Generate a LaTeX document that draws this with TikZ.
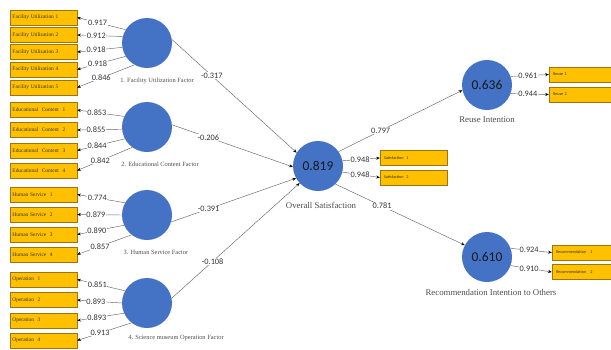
\documentclass[tikz,border=0pt]{standalone}
\usepackage{fontspec}
\setmainfont{Liberation Serif}
\newfontfamily\numfont{Carlito}
\usetikzlibrary{arrows.meta}
\definecolor{cblue}{HTML}{4472C4}
\definecolor{byellow}{HTML}{FFC000}
\definecolor{bedge}{HTML}{9C7410}
\begin{document}
\begin{tikzpicture}[x=1pt,y=-1pt,
  lv/.style={circle, fill=cblue, minimum size=50pt, inner sep=0pt, text=black!90,
    font=\numfont\fontsize{13.5}{13.5}\selectfont},
  indl/.style={draw=bedge, fill=byellow, minimum width=67pt, minimum height=15pt,
    inner xsep=2.5pt, inner ysep=0pt, text width=62pt, align=left, text=black!80,
    font=\fontsize{5.4}{6}\selectfont},
  indr/.style={draw=bedge, fill=byellow, minimum width=67pt, minimum height=15pt,
    inner xsep=4pt, inner ysep=0pt, text width=59pt, align=left, text=black!80,
    font=\numfont\fontsize{4.2}{5}\selectfont},
  ar/.style={draw=black!60, line width=0.45pt, -{Stealth[length=3.6pt,width=3pt,color=black]}},
  ld/.style={fill=white, inner sep=0.6pt, text=black!80, font=\numfont\fontsize{8.3}{9}\selectfont},
  pl/.style={fill=white, inner sep=0.6pt, text=black!80, font=\numfont\fontsize{8.3}{9}\selectfont},
  flbl/.style={text=black!70, inner sep=0pt, font=\fontsize{6.4}{7}\selectfont},
  clbl/.style={text=black!70, inner sep=0pt, font=\fontsize{8.8}{9}\selectfont}
]
\useasboundingbox (0,0) rectangle (611,349);
\clip (0,0) rectangle (611,349);

% latent variables
\node[lv] (F) at (147,43) {};
\node[lv] (E) at (147,127) {};
\node[lv] (H) at (147,215) {};
\node[lv] (O) at (147,303) {};
\node[lv] (S) at (318,166) {0.819};
\node[lv] (R) at (487,85) {0.636};
\node[lv] (C) at (487,257) {0.610};

% latent labels
\node[flbl] (Fl) at (157,81) {1. Facility Utilization Factor};
\node[flbl] (El) at (160,164) {2. Educational Content Factor};
\node[flbl] (Hl) at (156,252) {3. Human Service Factor};
\node[flbl] (Ol) at (176,338) {4. Science museum Operation Factor};
\node[clbl] (Sl) at (321,205) {Overall Satisfaction};
\node[clbl] (Rl) at (487,120) {Reuse Intention};
\node[clbl] (Cl) at (491,292) {Recommendation Intention to Others};

% left indicators
\node[indl] (f1) at (43.5,17.5) {Facility Utilization 1};
\node[indl] (f2) at (43.5,35) {Facility Utilization 2};
\node[indl] (f3) at (43.5,52) {Facility Utilization 3};
\node[indl] (f4) at (43.5,69.5) {Facility Utilization 4};
\node[indl] (f5) at (43.5,87.5) {Facility Utilization 5};
\node[indl] (e1) at (43.5,110) {Educational\ \ Content\ \ 1};
\node[indl] (e2) at (43.5,130) {Educational\ \ Content\ \ 2};
\node[indl] (e3) at (43.5,150.5) {Educational\ \ Content\ \ 3};
\node[indl] (e4) at (43.5,170.5) {Educational\ \ Content\ \ 4};
\node[indl] (h1) at (43.5,194.5) {Human Service\ \ 1};
\node[indl] (h2) at (43.5,214.5) {Human Service\ \ 2};
\node[indl] (h3) at (43.5,234.5) {Human Service\ \ 3};
\node[indl] (h4) at (43.5,254.5) {Human Service\ \ 4};
\node[indl] (o1) at (43.5,279.5) {Operation\ \ 1};
\node[indl] (o2) at (43.5,300) {Operation\ \ 2};
\node[indl] (o3) at (43.5,320.5) {Operation\ \ 3};
\node[indl] (o4) at (43.5,340.5) {Operation\ \ 4};

% right indicators
\node[indr] (s1) at (413.5,158) {Satisfaction\ \ 1};
\node[indr] (s2) at (413.5,177.5) {Satisfaction\ \ 2};
\node[indr] (r1) at (582.5,74.5) {Reuse 1};
\node[indr] (r2) at (582.5,94.5) {Reuse 2};
\node[indr] (c1) at (585.5,252.5) {Recommendation\ \ \ 1};
\node[indr] (c2) at (585.5,272) {Recommendation\ \ \ 2};

% loadings
\draw[ar] (F.148) -- node[ld,pos=0.58]{0.917} (f1.east);
\draw[ar] (F.165) -- node[ld,pos=0.58]{0.912} (f2.east);
\draw[ar] (F.190) -- node[ld,pos=0.58]{0.918} (f3.east);
\draw[ar] (F.212) -- node[ld,pos=0.58]{0.918} (f4.east);
\draw[ar] (F.240) -- node[ld,pos=0.58]{0.846} (f5.east);

\draw[ar] (E.155) -- node[ld,pos=0.58]{0.853} (e1.east);
\draw[ar] (E.185) -- node[ld,pos=0.58]{0.855} (e2.east);
\draw[ar] (E.208) -- node[ld,pos=0.58]{0.844} (e3.east);
\draw[ar] (E.234) -- node[ld,pos=0.58]{0.842} (e4.east);

\draw[ar] (H.151) -- node[ld,pos=0.58]{0.774} (h1.east);
\draw[ar] (H.180) -- node[ld,pos=0.58]{0.879} (h2.east);
\draw[ar] (H.204) -- node[ld,pos=0.58]{0.890} (h3.east);
\draw[ar] (H.232) -- node[ld,pos=0.58]{0.857} (h4.east);

\draw[ar] (O.151) -- node[ld,pos=0.58]{0.851} (o1.east);
\draw[ar] (O.180) -- node[ld,pos=0.58]{0.893} (o2.east);
\draw[ar] (O.204) -- node[ld,pos=0.58]{0.893} (o3.east);
\draw[ar] (O.232) -- node[ld,pos=0.58]{0.913} (o4.east);

\draw[ar] (S.12) -- node[ld,pos=0.47]{0.948} (s1.west);
\draw[ar] (S.-14) -- node[ld,pos=0.47]{0.948} (s2.west);
\draw[ar] (R.20) -- node[ld,pos=0.45]{0.961} (r1.west);
\draw[ar] (R.-20) -- node[ld,pos=0.45]{0.944} (r2.west);
\draw[ar] (C.20) -- node[ld,pos=0.45]{0.924} (c1.west);
\draw[ar] (C.-20) -- node[ld,pos=0.45]{0.910} (c2.west);

% structural paths
\draw[ar] (F.8) -- node[pl,pos=0.32]{-0.317} (S.148);
\draw[ar] (E.5) -- node[pl,pos=0.3]{-0.206} (S.182);
\draw[ar] (H.-16) -- node[pl,pos=0.3]{-0.391} (S.209);
\draw[ar] (O.11) -- node[pl,pos=0.32]{-0.108} (S.223);
\draw[ar] (S.35) -- node[pl,pos=0.34]{0.797} (R.192);
\draw[ar] (S.-46) -- node[pl,pos=0.36]{0.781} (C.152);
\end{tikzpicture}
\end{document}
